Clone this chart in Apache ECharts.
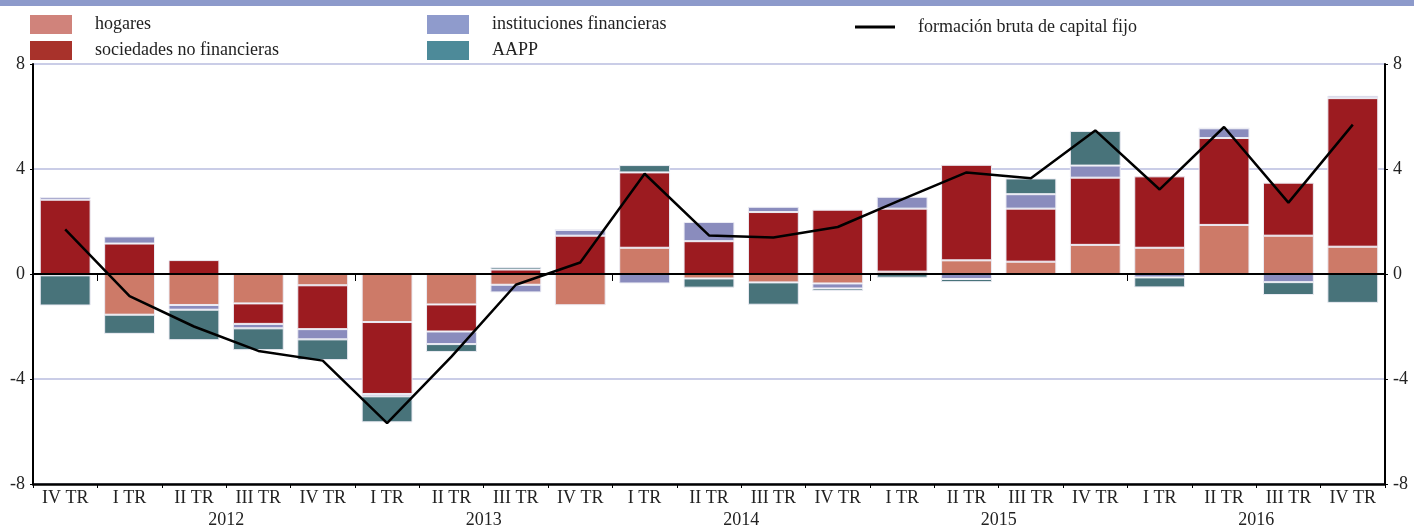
<!DOCTYPE html>
<html>
<head>
<meta charset="utf-8">
<script src="https://cdn.jsdelivr.net/npm/echarts@6/dist/echarts.min.js"></script>
<style>
  html, body { margin: 0; padding: 0; background: #fff; }
  #chart { width: 1414px; height: 528px; }
</style>
</head>
<body>
<div id="chart"></div>
<script>
// trimestres (el primero es IV TR 2011)
const quarters = ['IV TR','I TR','II TR','III TR','IV TR','I TR','II TR','III TR','IV TR','I TR','II TR',
  'III TR','IV TR','I TR','II TR','III TR','IV TR','I TR','II TR','III TR','IV TR']
const years = ['2012','2013','2014','2015','2016']
const yTicks = [-8, -4, 0, 4, 8]

const hogares = [-0.05, -1.55, -1.18, -1.12, -0.43, -1.83, -1.16, -0.41, -1.19, 1.0, -0.17,
  -0.32, -0.36, 0.09, 0.52, 0.47, 1.11, 1.0, 1.87, 1.46, 1.04]
const sociedades = [2.83, 1.16, 0.53, -0.78, -1.67, -2.74, -1.03, 0.17, 1.46, 2.87, 1.25,
  2.36, 2.45, 2.4, 3.64, 2.02, 2.56, 2.72, 3.31, 2.02, 5.66]
const instituciones = [0.1, 0.27, -0.18, -0.17, -0.39, -0.09, -0.48, -0.29, 0.22, -0.36, 0.73,
  0.2, -0.19, 0.45, -0.19, 0.55, 0.46, -0.13, 0.37, -0.31, 0.09]
const aapp = [-1.15, -0.73, -1.16, -0.83, -0.79, -0.99, -0.3, 0.1, 0, 0.28, -0.35,
  -0.85, -0.1, -0.14, -0.12, 0.6, 1.32, -0.38, 0, -0.49, -1.1]
const fbcf = [1.7, -0.84, -2.0, -2.93, -3.3, -5.68, -3.15, -0.41, 0.44, 3.82, 1.47,
  1.39, 1.79, 2.84, 3.87, 3.65, 5.47, 3.22, 5.6, 2.72, 5.69]

// eje de años: medios trimestres, etiqueta centrada en cada año
const yearSlots = new Array(43).fill('')
years.forEach((y, k) => { yearSlots[6 + 8 * k] = y })

const font = 'Liberation Serif'
const txt = { fontFamily: font, fontSize: 18, color: '#222' }

function barSeries(name, data, color) {
  return {
    name: name,
    type: 'bar',
    stack: 'total',
    data: data,
    barCategoryGap: '21%',
    itemStyle: { color: color, borderColor: '#ececf4', borderWidth: 1 }
  }
}

function yAxisCfg(pos) {
  return {
    type: 'value',
    position: pos,
    min: -8, max: 8, interval: 4,
    axisLine: { show: true, lineStyle: { color: '#000', width: 2 } },
    axisTick: { show: true, length: 3, lineStyle: { color: '#000' } },
    axisLabel: Object.assign({ margin: 8, formatter: v => yTicks.includes(v) ? String(v) : '' }, txt),
    splitLine: { show: pos === 'left', lineStyle: { color: '#b9bddf', width: 1.5 } }
  }
}

const legendBase = {
  orient: 'vertical', top: 15, padding: 0, itemWidth: 42, itemHeight: 19, itemGap: 7,
  icon: 'rect', itemStyle: { borderWidth: 0 },
  textStyle: Object.assign({ padding: [0, 0, 0, 18] }, txt)
}

const chart = echarts.init(document.getElementById('chart'))
chart.setOption({
  animation: false,
  backgroundColor: '#fff',
  graphic: [{
    type: 'rect', left: 0, top: 0,
    shape: { width: 1414, height: 6 },
    style: { fill: '#8d9acb' }
  }],
  legend: [
    Object.assign({}, legendBase, {
      left: 30,
      data: [{ name: 'hogares', itemStyle: { color: '#d0837b' } },
             { name: 'sociedades no financieras', itemStyle: { color: '#a8322b' } }]
    }),
    Object.assign({}, legendBase, {
      left: 427,
      data: [{ name: 'instituciones financieras', itemStyle: { color: '#8f9bcc' } },
             { name: 'AAPP', itemStyle: { color: '#4d8a99' } }]
    }),
    Object.assign({}, legendBase, {
      left: 855, top: 18, itemWidth: 40, itemHeight: 3,
      data: [{ name: 'formación bruta de capital fijo', itemStyle: { color: '#000' } }]
    })
  ],
  grid: { left: 33, right: 29, top: 64, bottom: 44, outerBoundsMode: 'none' },
  xAxis: [
    {
      type: 'category',
      data: quarters,
      axisLine: { onZero: false, lineStyle: { color: '#000', width: 2.5 } },
      axisTick: { show: true, interval: 0, length: 4, lineStyle: { color: '#000' } },
      axisLabel: Object.assign({ interval: 0, margin: 5 }, txt)
    },
    {
      type: 'category',
      data: yearSlots,
      boundaryGap: false,
      position: 'bottom',
      axisLine: { show: false },
      axisTick: { show: true, length: 7, interval: i => i % 8 === 2, lineStyle: { color: '#000' } },
      axisLabel: Object.assign({ interval: i => i % 8 === 6, margin: 27 }, txt)
    }
  ],
  yAxis: [yAxisCfg('left'), yAxisCfg('right')],
  series: [
    barSeries('hogares', hogares, '#cd7a68'),
    barSeries('sociedades no financieras', sociedades, '#9c1b20'),
    barSeries('instituciones financieras', instituciones, '#8a8cbd'),
    barSeries('AAPP', aapp, '#48737a'),
    {
      name: 'formación bruta de capital fijo',
      type: 'line',
      data: fbcf,
      showSymbol: false,
      symbol: 'none',
      z: 5,
      lineStyle: { color: '#000', width: 2.5 },
      itemStyle: { color: '#000' },
      markLine: {
        silent: true, symbol: 'none', label: { show: false },
        lineStyle: { color: '#000', width: 2, type: 'solid' },
        data: [{ yAxis: 0 }]
      }
    }
  ]
})
</script>
</body>
</html>
